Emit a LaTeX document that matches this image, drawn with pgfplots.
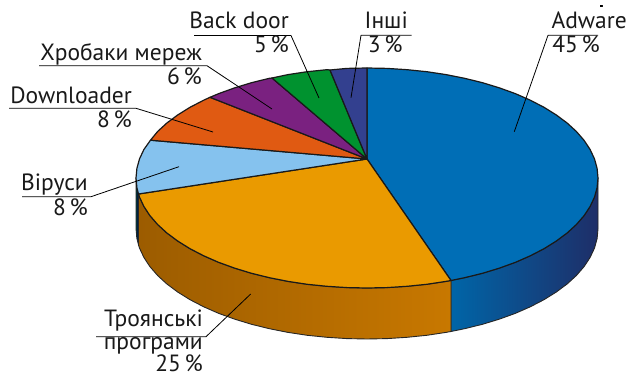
\documentclass[border=0pt]{standalone}
\usepackage{pgfplots}
\pgfplotsset{compat=1.18}
\usepackage{fontspec}
\setmainfont{PT Sans}
\definecolor{cAd}{HTML}{006EB6}
\definecolor{cTr}{HTML}{EA9A00}
\definecolor{cVi}{HTML}{85C2EE}
\definecolor{cDl}{HTML}{E05A12}
\definecolor{cWo}{HTML}{7A2180}
\definecolor{cBd}{HTML}{00922F}
\definecolor{cOt}{HTML}{33408F}
\tikzset{lbl/.style={font=\fontsize{23.5}{26}\selectfont,inner sep=0pt,anchor=base east,text=black!90}}
\newcommand{\pct}[1]{#1\hspace{0.16em}\%}
\begin{document}
\begin{tikzpicture}
\begin{axis}[width=629pt,height=374pt,scale only axis,hide axis,
  xmin=0,xmax=629,ymin=0,ymax=374,y dir=reverse,clip=false,
  every axis plot/.append style={line join=round}]
\path (axis cs:0,0) rectangle (axis cs:629,374);
% side walls
\addplot[draw=black!85,line width=0.8pt,left color=black!55!teal,right color=black!70!blue] coordinates {(138.5,194)(136.9,187.6)(136,178)(136,229)(136.9,238.6)(138.5,245)} -- cycle;
\addplot[draw=black!85,line width=0.9pt,left color=black!8!cAd,right color={rgb,255:red,30;green,46;blue,104}] coordinates {(451,280.5)(464.6,277.7)(482.5,273.3)(499.5,268.1)(515.5,262.3)(530.3,255.8)(544,248.7)(556.2,241.1)(567.1,233)(576.4,224.5)(584.1,215.6)(590.1,206.5)(594.5,197.1)(597.1,187.6)(598,178)(598,229)(597.1,238.6)(594.5,248.1)(590.1,257.5)(584.1,266.6)(576.4,275.5)(567.1,284)(556.2,292.1)(544,299.7)(530.3,306.8)(515.5,313.3)(499.5,319.1)(482.5,324.3)(464.6,328.7)(451,331.5)} -- cycle;
\addplot[draw=black!85,line width=0.9pt,left color={rgb,255:red,156;green,92;blue,0},right color={rgb,255:red,200;green,120;blue,0}] coordinates {(451,280.5)(446,281.4)(426.8,284.3)(407.1,286.3)(387.1,287.6)(367,288)(346.9,287.6)(326.9,286.3)(307.2,284.3)(288,281.4)(269.4,277.7)(251.5,273.3)(234.5,268.1)(218.5,262.3)(203.7,255.8)(190,248.7)(177.8,241.1)(166.9,233)(157.6,224.5)(149.9,215.6)(143.9,206.5)(139.5,197.1)(138.5,194)(138.5,245)(139.5,248.1)(143.9,257.5)(149.9,266.6)(157.6,275.5)(166.9,284)(177.8,292.1)(190,299.7)(203.7,306.8)(218.5,313.3)(234.5,319.1)(251.5,324.3)(269.4,328.7)(288,332.4)(307.2,335.3)(326.9,337.3)(346.9,338.6)(367,339)(387.1,338.6)(407.1,337.3)(426.8,335.3)(446,332.4)(451,331.5)} -- cycle;
% top slices
\addplot[draw=black!90,line width=1.2pt,fill=cAd] coordinates {(367,159)(367,68)(387.1,68.4)(407.1,69.7)(426.8,71.7)(446,74.6)(464.6,78.3)(482.5,82.7)(499.5,87.9)(515.5,93.7)(530.3,100.2)(544,107.3)(556.2,114.9)(567.1,123)(576.4,131.5)(584.1,140.4)(590.1,149.5)(594.5,158.9)(597.1,168.4)(598,178)(597.1,187.6)(594.5,197.1)(590.1,206.5)(584.1,215.6)(576.4,224.5)(567.1,233)(556.2,241.1)(544,248.7)(530.3,255.8)(515.5,262.3)(499.5,268.1)(482.5,273.3)(464.6,277.7)(451,280.5)} -- cycle;
\addplot[draw=black!90,line width=1.2pt,fill=cTr] coordinates {(367,159)(451,280.5)(446,281.4)(426.8,284.3)(407.1,286.3)(387.1,287.6)(367,288)(346.9,287.6)(326.9,286.3)(307.2,284.3)(288,281.4)(269.4,277.7)(251.5,273.3)(234.5,268.1)(218.5,262.3)(203.7,255.8)(190,248.7)(177.8,241.1)(166.9,233)(157.6,224.5)(149.9,215.6)(143.9,206.5)(139.5,197.1)(138.5,194)} -- cycle;
\addplot[draw=black!90,line width=1.2pt,fill=cVi] coordinates {(367,159)(138.5,194)(136.9,187.6)(136,178)(136.9,168.4)(139.5,158.9)(143.9,149.5)(150.5,140.2)} -- cycle;
\addplot[draw=black!90,line width=1.2pt,fill=cDl] coordinates {(367,159)(150.5,140.2)(157.6,131.5)(166.9,123)(177.8,114.9)(190,107.3)(203.7,100.2)(210,97.3)} -- cycle;
\addplot[draw=black!90,line width=1.2pt,fill=cWo] coordinates {(367,159)(210,97.3)(218.5,93.7)(234.5,87.9)(251.5,82.7)(269.4,78.3)(272,78)} -- cycle;
\addplot[draw=black!90,line width=1.2pt,fill=cBd] coordinates {(367,159)(272,78)(288,74.6)(307.2,71.7)(326.9,69.7)(330,70)} -- cycle;
\addplot[draw=black!90,line width=1.2pt,fill=cOt] coordinates {(367,159)(330,70)(346.9,68.4)(367,68)} -- cycle;
% leaders
\addplot[black,line width=0.8pt] coordinates {(194,35.5)(291,35.5)(319,98)};
\addplot[black,line width=0.8pt] coordinates {(39,65.7)(207,65.7)(272,109)};
\addplot[black,line width=0.8pt] coordinates {(9,108.3)(136,108.3)(213,132)};
\addplot[black,line width=0.8pt] coordinates {(22,196.7)(91,196.7)(179,166.7)};
\addplot[black,line width=0.8pt] coordinates {(411.7,35.3)(361,35.3)(351,97.7)};
\addplot[black,line width=0.8pt] coordinates {(598,35.3)(548,35.3)(514.3,131.7)};
\addplot[black,line width=0.8pt] coordinates {(96,336.7)(206,336.7)(250.7,294)};
\addplot[only marks,mark=square*,mark size=0.7pt,black] coordinates {(601,6)};
% labels
\node[lbl] at (axis cs:289,29) {Back door};
\node[lbl] at (axis cs:289,52.7) {\pct{5}};
\node[lbl] at (axis cs:202,61) {Хробаки мереж};
\node[lbl] at (axis cs:202,85) {\pct{6}};
\node[lbl] at (axis cs:132,104) {Downloader};
\node[lbl] at (axis cs:132,127.7) {\pct{8}};
\node[lbl] at (axis cs:88,191) {Віруси};
\node[lbl] at (axis cs:88,215) {\pct{8}};
\node[lbl] at (axis cs:203,326.7) {Троянські};
\node[lbl] at (axis cs:203,349.7) {програми};
\node[lbl] at (axis cs:203,371) {\pct{25}};
\node[lbl] at (axis cs:408,28.3) {Інші};
\node[lbl] at (axis cs:402.7,52.7) {\pct{3}};
\node[lbl] at (axis cs:627,28.3) {Adware};
\node[lbl] at (axis cs:600,52.7) {\pct{45}};
\end{axis}
\end{tikzpicture}
\end{document}
